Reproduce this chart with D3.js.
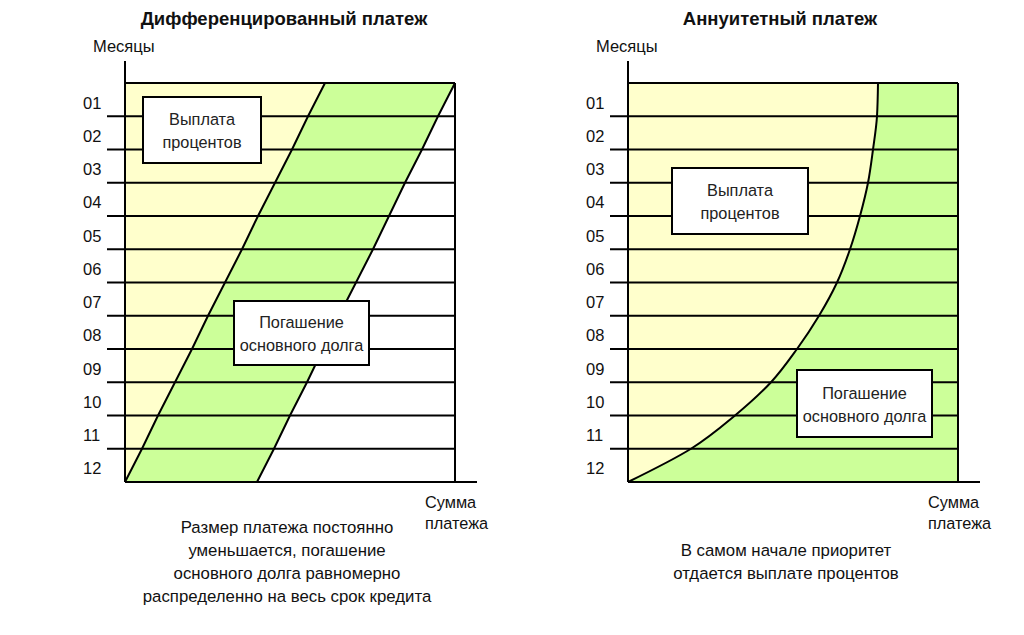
<!DOCTYPE html>
<html>
<head>
<meta charset="utf-8">
<script src="https://cdn.jsdelivr.net/npm/d3@7"></script>
<style>
  html, body { margin: 0; padding: 0; background: #fff; }
  svg { display: block; font-family: "Liberation Sans", Arial, sans-serif; }
</style>
</head>
<body>
<div id="chart"></div>
<script>
// Month labels (rows)
const months = ['01', '02', '03', '04', '05', '06', '07', '08', '09', '10', '11', '12'];
// Row boundaries 0..12 (start of month 1 ... end of month 12)
const steps = [0, 1, 2, 3, 4, 5, 6, 7, 8, 9, 10, 11, 12];

// Differentiated: interest part shrinks evenly, principal part is constant
const diffInterest = [200, 183, 167, 150, 133, 117, 100, 83, 67, 50, 33, 17, 0];
const diffPrincipal = [130, 130, 130, 130, 131, 131, 131, 131, 131, 132, 132, 132, 132];

// Annuity: total payment is constant, interest share falls faster near the end
const annInterest = [250, 249, 245, 240, 232, 222, 209, 191, 169, 143, 107, 63, 0];
const annTotal = [330, 330, 330, 330, 330, 330, 330, 330, 330, 330, 330, 330, 330];

const panels = [
    {
        title: 'Дифференцированный платеж',
        ox: 125, titleX: 284,
        interest: diffInterest,
        total: diffInterest.map((d, i) => d + diffPrincipal[i]),
        curve: d3.curveLinear,
        boxes: [
            { x0: 18, x1: 136, y0: 97, y1: 163, lines: ['Выплата', 'процентов'] },
            { x0: 109, x1: 244, y0: 301, y1: 365, lines: ['Погашение', 'основного долга'] }
        ],
        caption: ['Размер платежа постоянно', 'уменьшается, погашение', 'основного долга равномерно', 'распределенно на весь срок кредита'],
        captionX: 287, captionY: 533
    },
    {
        title: 'Аннуитетный платеж',
        ox: 628, titleX: 780,
        interest: annInterest,
        total: annTotal,
        curve: d3.curveMonotoneY,
        boxes: [
            { x0: 44, x1: 180, y0: 168, y1: 234, lines: ['Выплата', 'процентов'] },
            { x0: 169, x1: 304, y0: 370, y1: 437, lines: ['Погашение', 'основного долга'] }
        ],
        caption: ['В самом начале приоритет', 'отдается выплате процентов'],
        captionX: 786, captionY: 556
    }
];

const W = 1024, H = 635;
const yellow = '#FFFFCC', green = '#CCFF99';

const svg = d3.select('#chart').append('svg')
    .attr('width', W).attr('height', H);

const y = d3.scaleLinear().domain([0, 12]).range([83, 482]);
const yBand = d3.scaleBand().domain(months).range([83, 482]);

panels.forEach(p => {
    const g = svg.append('g');
    const x = d3.scaleLinear().domain([0, 330]).range([p.ox, p.ox + 330]);

    // Background (white beyond payment)
    g.append('rect')
        .attr('x', x(0)).attr('y', y(0))
        .attr('width', x(330) - x(0)).attr('height', y(12) - y(0))
        .attr('fill', '#fff');

    // Interest area
    const interestArea = d3.area()
        .curve(p.curve)
        .y(d => y(d))
        .x0(() => x(0))
        .x1(d => x(p.interest[d]));
    g.append('path').datum(steps)
        .attr('d', interestArea)
        .attr('fill', yellow);

    // Principal area
    const principalArea = d3.area()
        .curve(p.curve)
        .y(d => y(d))
        .x0(d => x(p.interest[d]))
        .x1(d => x(p.total[d]));
    g.append('path').datum(steps)
        .attr('d', principalArea)
        .attr('fill', green);

    // Month separators
    g.selectAll('line.row')
        .data(steps.slice(1, 12))
        .join('line')
        .attr('class', 'row')
        .attr('x1', x(0) - 18).attr('x2', x(330))
        .attr('y1', d => y(d)).attr('y2', d => y(d))
        .attr('stroke', '#000').attr('stroke-width', 2);

    // Top line
    g.append('line')
        .attr('x1', x(0)).attr('x2', x(330))
        .attr('y1', y(0)).attr('y2', y(0))
        .attr('stroke', '#000').attr('stroke-width', 2);

    // Boundary lines of areas
    const edge = acc => d3.line().curve(p.curve)
        .x(d => x(acc[d])).y(d => y(d));
    g.append('path').datum(steps)
        .attr('d', edge(p.interest))
        .attr('fill', 'none').attr('stroke', '#000').attr('stroke-width', 2);
    g.append('path').datum(steps)
        .attr('d', edge(p.total))
        .attr('fill', 'none').attr('stroke', '#000').attr('stroke-width', 2);

    // Right border
    g.append('line')
        .attr('x1', x(330)).attr('x2', x(330))
        .attr('y1', y(0)).attr('y2', y(12))
        .attr('stroke', '#000').attr('stroke-width', 2);

    // Axes
    g.append('line')
        .attr('x1', x(0)).attr('x2', x(0))
        .attr('y1', 61).attr('y2', y(12))
        .attr('stroke', '#000').attr('stroke-width', 2);
    g.append('line')
        .attr('x1', x(0)).attr('x2', x(352))
        .attr('y1', y(12)).attr('y2', y(12))
        .attr('stroke', '#000').attr('stroke-width', 2);

    // Month labels
    g.selectAll('text.month')
        .data(months)
        .join('text')
        .attr('class', 'month')
        .attr('x', x(0) - 42)
        .attr('y', d => yBand(d) + yBand.bandwidth() / 2 + 9)
        .attr('font-size', 16.5)
        .attr('fill', '#111')
        .text(d => d);

    // Boxes
    p.boxes.forEach(b => {
        g.append('rect')
            .attr('x', x(b.x0)).attr('y', b.y0)
            .attr('width', x(b.x1) - x(b.x0)).attr('height', b.y1 - b.y0)
            .attr('fill', '#fff').attr('stroke', '#000').attr('stroke-width', 2);
        const cx = (x(b.x0) + x(b.x1)) / 2, cy = (b.y0 + b.y1) / 2;
        b.lines.forEach((t, i) => {
            g.append('text')
                .attr('x', cx).attr('y', cy - 5 + i * 23)
                .attr('text-anchor', 'middle')
                .attr('font-size', 16.3)
                .attr('fill', '#222')
                .text(t);
        });
    });

    // Titles
    g.append('text')
        .attr('x', p.titleX).attr('y', 25)
        .attr('text-anchor', 'middle')
        .attr('font-size', 18.5).attr('font-weight', 'bold')
        .attr('fill', '#111')
        .text(p.title);
    g.append('text')
        .attr('x', x(0) - 32).attr('y', 52)
        .attr('font-size', 16.5).attr('fill', '#111')
        .text('Месяцы');

    // X axis title
    ['Сумма', 'платежа'].forEach((t, i) => {
        g.append('text')
            .attr('x', x(300)).attr('y', 508 + i * 21)
            .attr('font-size', 16.3).attr('fill', '#111')
            .text(t);
    });

    // Caption
    p.caption.forEach((t, i) => {
        g.append('text')
            .attr('x', p.captionX).attr('y', p.captionY + i * 23)
            .attr('text-anchor', 'middle')
            .attr('font-size', 16.8).attr('fill', '#111')
            .text(t);
    });
});
</script>
</body>
</html>
